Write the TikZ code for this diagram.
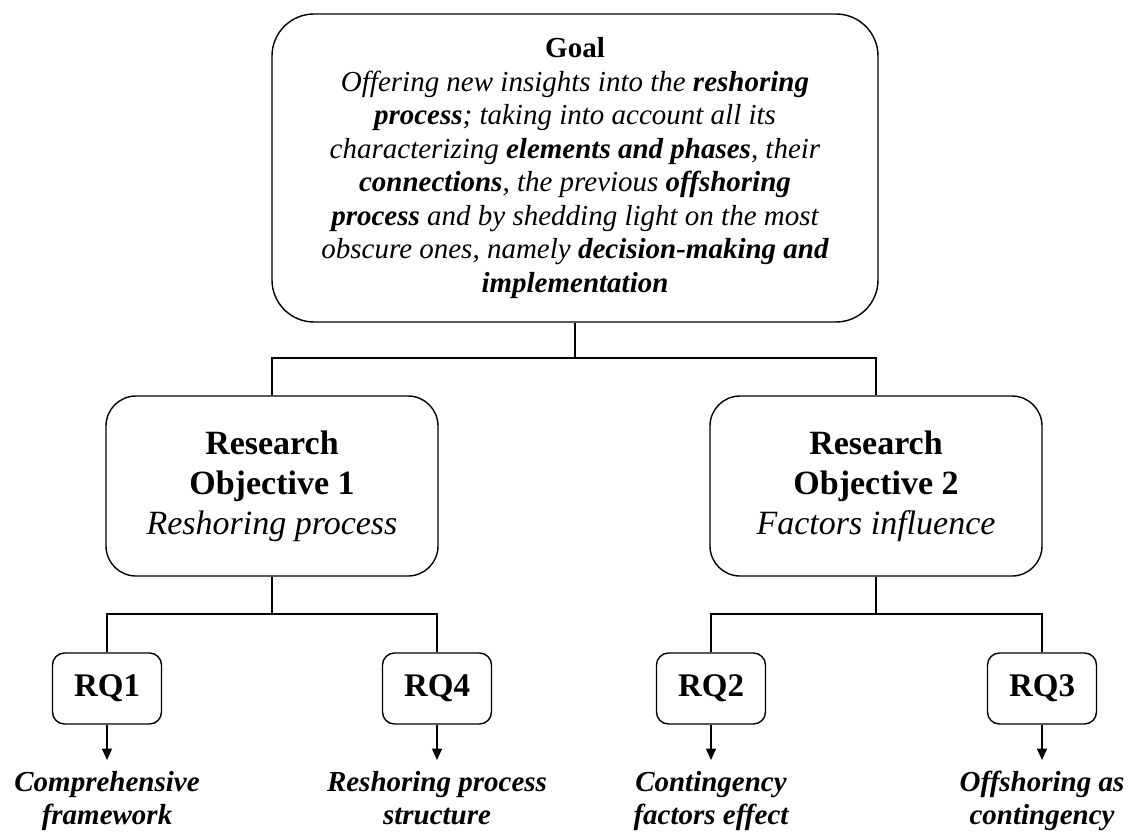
\documentclass[tikz,border=0pt]{standalone}
\usepackage{fontspec}
\setmainfont{Liberation Serif}
\usetikzlibrary{arrows.meta}
\begin{document}
\begin{tikzpicture}[x=0.75pt,y=-0.75pt,
  line width=1.05pt,
  goalbox/.style={draw, rounded corners=31.5pt, minimum width=454.5pt,
    minimum height=231pt, align=center, inner sep=0pt,
    font=\fontsize{21.75}{25.1}\selectfont},
  objbox/.style={draw, rounded corners=22.5pt, minimum width=249pt,
    minimum height=135pt, align=center, inner sep=0pt,
    font=\fontsize{25.5}{30}\selectfont},
  rqbox/.style={draw, rounded corners=9pt, minimum width=81.75pt,
    minimum height=53.25pt, inner sep=0pt,
    font=\fontsize{24.75}{28}\selectfont\bfseries},
  outcome/.style={anchor=north, align=center, inner xsep=0pt, inner ysep=8pt,
    font=\fontsize{21.75}{24.75}\selectfont\bfseries\itshape},
  result/.style={-{Triangle[length=8.5pt,width=7.5pt]}}
]
\useasboundingbox[fill=white] (0,0) rectangle (1132,834);

% goal
\node[goalbox] (goal) at (575,168) {\textbf{Goal}\\
  \itshape Offering new insights into the \textbf{reshoring}\\
  \itshape\textbf{process}; taking into account all its\\
  \itshape characterizing \textbf{elements and phases}, their\\
  \itshape\textbf{connections}, the previous \textbf{offshoring}\\
  \itshape\textbf{process} and by shedding light on the most\\
  \itshape obscure ones, namely \textbf{decision-making and}\\
  \itshape\textbf{implementation}};

% research objectives
\node[objbox] (ro1) at (272,486) {\textbf{Research}\\ \textbf{Objective 1}\\ \textit{Reshoring process}};
\node[objbox] (ro2) at (876,486) {\textbf{Research}\\ \textbf{Objective 2}\\ \textit{Factors influence}};

% research questions
\node[rqbox] (rq1) at (107,688.5) {RQ1};
\node[rqbox] (rq4) at (437,688.5) {RQ4};
\node[rqbox] (rq2) at (711,688.5) {RQ2};
\node[rqbox] (rq3) at (1042,688.5) {RQ3};

% outcomes
\node[outcome] (o1) at (107,760) {Comprehensive\\framework};
\node[outcome] (o4) at (437,760) {Reshoring process\\structure};
\node[outcome] (o2) at (711,760) {Contingency\\factors effect};
\node[outcome] (o3) at (1042,760) {Offshoring as\\contingency};

% tree connectors
\coordinate (gj) at (575,358);
\coordinate (j1) at (272,614);
\coordinate (j2) at (876,614);
\draw (goal.south) -- (gj);
\draw (ro1.north) |- (gj) -| (ro2.north);
\draw (ro1.south) -- (j1);
\draw (rq1.north) |- (j1) -| (rq4.north);
\draw (ro2.south) -- (j2);
\draw (rq2.north) |- (j2) -| (rq3.north);

% arrows to outcomes
\draw[result] (rq1.south) -- (o1.north);
\draw[result] (rq4.south) -- (o4.north);
\draw[result] (rq2.south) -- (o2.north);
\draw[result] (rq3.south) -- (o3.north);
\end{tikzpicture}
\end{document}
